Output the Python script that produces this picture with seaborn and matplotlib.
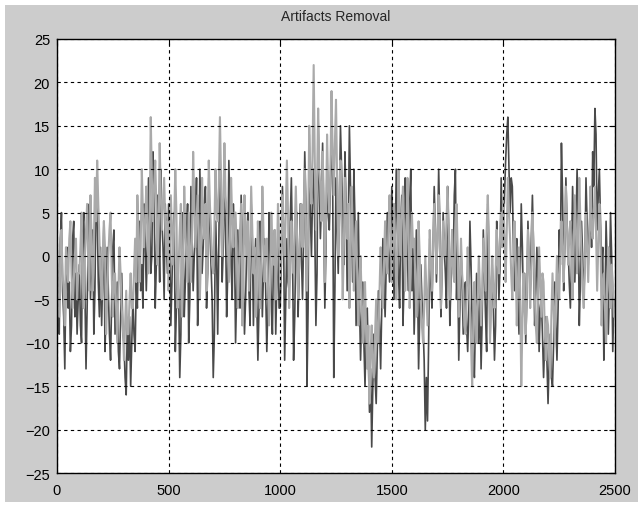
import numpy as np
import matplotlib
matplotlib.use("Agg")
import matplotlib.pyplot as plt
import seaborn as sns
from matplotlib.patches import Rectangle

# original signal (dark trace), one value every 5 samples
dark = [
    3, -5, -9, 2, 5, -4, -7, -13, -2, 1, -6, -3, -11, -8, 2, 4, -7, -2, -9, -5,
    -1, -8, -10, 3, 5, -4, -13, -6, 2, 6, -5, -1, 3, -9, -4, 8, 5, -3, -7, 1,
    -8, -2, 4, -11, -6, 1, -4, -9, -12, -5, 1, 3, -9, -6, -3, -11, -13, -7, -2, -9,
    -10, -14, -16, -8, -12, -7, -15, -10, -5, -9, -11, -3, -6, 2, 4, -4, -1, -6, 6, 2,
    -4, 1, 9, 5, -2, 0, 12, 7, -6, -1, 7, 3, -3, 10, 4, 1, -5, 6, 2, -2,
    6, 1, -8, -3, 3, 5, -11, -6, 0, -4, -14, -9, 5, 2, -7, -3, 2, 6, -10, -5,
    8, 2, -4, 0, 3, 9, -8, -3, 10, 4, -2, 1, 6, 8, -6, -2, 9, 3, -1, -5,
    -14, -9, 4, 0, -9, 2, 12, 6, -3, 1, 8, 4, -7, -2, 11, 5, -1, -5, 6, 2,
    -10, -4, 3, -1, -6, 7, 2, -3, -9, -5, 1, 5, -4, -8, 6, 2, -8, -2, 2, -5,
    -12, -6, 4, 0, -7, -2, 2, -4, -11, -5, 5, 1, -5, -9, 0, 3, -9, -3, 3, -6,
    -6, -1, 8, 3, -12, -5, 2, -3, -4, 4, 9, 1, -12, -7, 1, 5, -7, -2, 6, 0,
    -5, 2, 12, 6, -15, -6, 14, 5, 0, 7, 10, 3, -8, -2, 16, 9, 2, 6, 13, 4,
    -6, 1, 11, 5, 3, 8, 15, 9, -14, -4, 9, 3, -2, 6, 15, 10, 4, -1, 12, 6,
    -4, 3, 15, 8, 2, -3, 10, 4, -8, -2, 5, -5, -12, -7, -3, -10, -15, -8, -6, -12,
    -18, -13, -22, -15, -9, -14, -17, -11, -4, -8, -13, -6, 2, -3, -7, -1, 5, 0, -3, 2,
    8, 3, -5, 1, 10, 4, -2, -6, 4, 7, -8, -3, 9, 5, 0, -4, 6, 10, -4, 1,
    -9, -4, 3, -2, -13, -7, -1, -5, -8, -12, -20, -14, -19, -10, 2, -3, -6, 1, 8, 3,
    -3, 2, 10, 4, -7, -2, 5, 1, -2, -6, 8, 3, -8, -3, 3, -1, 7, 10, -5, 0,
    -12, -6, 1, -3, -9, -4, -3, -8, -11, -6, 4, -1, -8, -12, -14, -7, -2, -6, -10, -4,
    -13, -7, 3, -2, -7, -11, 6, 1, -10, -4, -1, -6, -12, -8, 4, 0, -5, -1, 9, 3,
    2, 7, 11, 14, 16, 10, 5, 9, 8, 1, -4, 0, 2, -5, -9, -3, 6, 1, -6, -2,
    -10, -5, 4, -1, -3, 2, 7, 1, -8, -4, 1, -3, -11, -6, -5, -9, -14, -10, -7, -12,
    -17, -12, -9, -14, -15, -10, -3, -8, -12, -6, 3, -1, 13, 7, -4, 1, 9, 4, 1, -3,
    -6, -1, 8, 3, -3, 2, 10, 5, -8, -3, 4, 0, -5, -1, 9, 4, -1, 3, 6, 1,
    12, 8, 17, 14, 3, 7, 10, 4, -2, 1, -12, -6, 4, -1, -9, -4, 5, 0, -11, -5,
]

# cleaned signal (light trace), one value every 5 samples
light = [
    -1, -4, -7, 0, 3, -2, -4, -8, 1, -1, -3, 2, 4, -2, -6, -3, 0, 2, -5, -2,
    -2, 1, 5, -3, -6, 0, 3, 6, -1, -4, 7, 2, -4, 1, 9, 4, 11, 6, 2, -2,
    -5, -1, 4, 1, -9, -5, 0, 3, 5, -2, -7, -3, -2, -6, -10, -4, 1, -2, -6, -8,
    -12, -8, -4, -9, -9, -5, -2, -6, -6, -2, 2, -3, 7, 3, -3, 1, 10, 5, 1, 4,
    8, 3, -2, 4, 16, 9, 4, 8, 11, 6, -1, 3, 13, 7, 3, 6, 9, 4, 0, 4,
    -4, 1, 7, 3, -1, 4, 10, 5, -6, -1, 3, 6, -7, -2, 8, 3, 0, -3, 5, 1,
    -3, 2, 12, 6, 1, 4, 7, 3, -5, 0, 9, 4, 2, 6, -4, 0, 11, 6, 3, -1,
    -2, 3, 10, 5, 4, 8, 16, 9, 0, 5, 13, 7, 5, 1, -3, 2, 9, 4, 1, 5,
    5, 1, -6, -2, 3, 6, -8, -3, 7, 2, 0, 4, -4, 0, 8, 3, -2, 1, -7, -3,
    4, 0, -6, -2, 8, 3, -3, 1, 2, -3, -8, -4, 5, 1, -1, 3, -5, -1, 6, 2,
    -3, 1, 7, 3, 0, 5, 11, 5, -6, -2, 4, 0, -2, 3, 8, 3, -5, -1, 3, 6,
    1, 5, 10, 4, -4, 2, 15, 9, 6, 12, 22, 11, 3, 8, 17, 10, 8, 4, 12, 7,
    -3, 4, 14, 8, 5, 10, 19, 12, 7, 13, 18, 9, 0, 5, 11, 4, -5, 1, 9, 4,
    2, 6, -6, -1, 8, 3, -4, 1, 4, -2, -8, -3, 0, -5, -10, -6, -3, -9, -13, -8,
    -17, -11, -8, -13, -14, -9, -5, -10, -10, -4, 1, -3, -6, -1, 4, 0, -2, 3, 7, 2,
    -3, 1, 6, 2, -5, -1, 10, 4, 0, 5, 8, 3, -4, 1, 9, 4, -6, -2, 5, 1,
    2, -2, -7, -3, 4, 0, -5, -8, -10, -6, 0, -4, -8, -3, 3, -1, -4, 1, 6, 2,
    -2, 3, 7, 2, -6, -1, 4, 0, 0, 4, 8, 3, -5, -1, 3, -2, -3, 2, 6, 1,
    -7, -3, 2, -2, -4, -8, -9, -5, 1, -3, -6, -10, -15, -8, -3, -6, -10, -5, 0, -4,
    -8, -4, 2, -1, -4, 3, 7, 2, -10, -5, 0, -4, -6, -2, 3, -1, -2, 2, 5, 1,
    6, 2, -3, 3, 9, 5, 2, -2, -5, 0, 4, -1, -8, -3, 1, -4, -15, -8, -2, -6,
    -9, -4, 3, -1, -6, -2, 5, 1, -4, -8, -10, -5, 1, -3, -7, -2, -3, -8, -12, -7,
    -8, -11, -14, -7, -2, -6, -10, -5, 0, -3, -5, 0, 4, 1, -3, 2, 8, 3, -1, 2,
    4, 0, -5, 1, 7, 3, -2, 2, 9, 4, 0, -4, -6, -1, 5, 1, -3, 2, 8, 3,
    2, 5, 8, 3, -4, 1, 6, 2, -8, -3, -2, -6, -10, -4, 1, -2, -6, -1, -3, -7,
]

x_ticks = [0, 500, 1000, 1500, 2000, 2500]
y_ticks = [-25, -20, -15, -10, -5, 0, 5, 10, 15, 20, 25]

x_dark = np.arange(len(dark)) * 5
x_light = np.arange(len(light)) * 5

sns.set_style("white")
plt.rcParams['font.family'] = ['Liberation Sans', 'DejaVu Sans']

fig = plt.figure(figsize=(6.38, 5.10), dpi=100, facecolor='#cccccc')
# thin white border strips around the window (top, left, bottom)
for (x0, y0, w, h) in [(0, 1 - 6 / 510, 1, 6 / 510),
                       (0, 0, 5 / 638, 1),
                       (0, 0, 1, 7 / 510)]:
    fig.patches.append(Rectangle((x0, y0), w, h, transform=fig.transFigure,
                                 facecolor='white', edgecolor='none'))

ax = fig.add_axes([57 / 638, 36 / 510, 558 / 638, 434 / 510])
ax.set_facecolor('white')

sns.lineplot(x=x_dark, y=dark, color='#4a4a4a', lw=1.2, ax=ax)
sns.lineplot(x=x_light, y=light, color='#aaaaaa', lw=1.5, ax=ax)

ax.set_xlim(0, 2500)
ax.set_ylim(-25, 25)
ax.set_xticks(x_ticks)
ax.set_yticks(y_ticks)
ax.set_axisbelow(False)
ax.grid(True, color='black', linestyle=(0, (3, 3)), linewidth=0.8)
ax.tick_params(direction='in', length=4, width=0.8, top=True, right=True,
               labelsize=10.5, colors='black', pad=5)
ax.tick_params(axis='x', pad=7)
for sp in ax.spines.values():
    sp.set_color('black')
    sp.set_linewidth(1.0)

ax.set_title('Artifacts Removal', fontsize=10, pad=14)
ax.set_xlabel('')
ax.set_ylabel('')

fig.savefig('out.png', dpi=100, facecolor=fig.get_facecolor())
